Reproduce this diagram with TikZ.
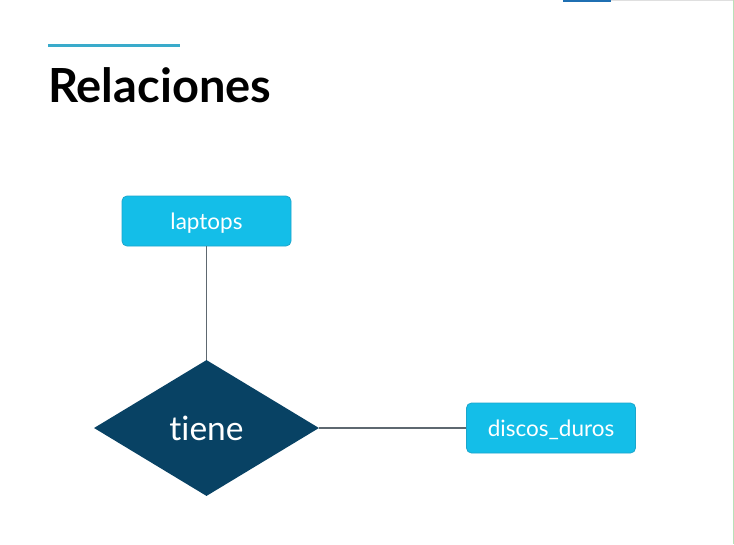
\documentclass[tikz,border=0pt]{standalone}
\usepackage{fontspec}
\setmainfont{Lato}[Ligatures=NoCommon]
\usetikzlibrary{shapes.geometric}
\definecolor{boxfill}{HTML}{14BEE8}
\definecolor{boxedge}{HTML}{1BA6CC}
\definecolor{dianavy}{HTML}{084264}
\definecolor{linkgray}{HTML}{5E6870}
\definecolor{rulecyan}{HTML}{3AABCB}
\definecolor{barblue}{HTML}{1F6FB2}
\tikzset{
  entity/.style={rectangle, rounded corners=5pt, fill=boxfill, draw=boxedge, line width=0.8pt,
    minimum width=169pt, minimum height=50pt, inner sep=0pt, text=white, text depth=0pt,
    font=\fontsize{22.5}{26}\selectfont},
  relation/.style={diamond, fill=dianavy, draw=none, minimum width=225pt, minimum height=136pt,
    inner sep=0pt, aspect=1.65, text=white, text depth=0pt, font=\fontsize{33.5}{38}\selectfont},
  link/.style={draw=linkgray, line width=1.5pt}
}
\begin{document}
\begin{tikzpicture}[x=1pt,y=-1pt]
\useasboundingbox[fill=white] (0,0) rectangle (734,544);
% top decorations
\fill[barblue] (563,0) rectangle (611,1.6);
\draw[gray!25, line width=0.8pt] (611,0.5) -- (733,0.5);
\draw[green!40!gray!40, line width=1pt] (733.3,0) -- (733.3,544);
% title
\draw[rulecyan, line width=3pt] (48,45) -- (180,45);
\node[anchor=base west, inner sep=0pt, font=\fontsize{47}{52}\selectfont\bfseries] (title) at (48,102) {Relaciones};
% diagram
\node[entity] (laptops) at (206.5,221) {laptops};
\node[relation] (tiene) at (206.5,428) {tiene};
\node[entity] (discos) at (551,428) {discos\_duros};
\draw[link] (laptops.south) -- (tiene.north);
\draw[link] (tiene.east) -- (discos.west);
\end{tikzpicture}
\end{document}
